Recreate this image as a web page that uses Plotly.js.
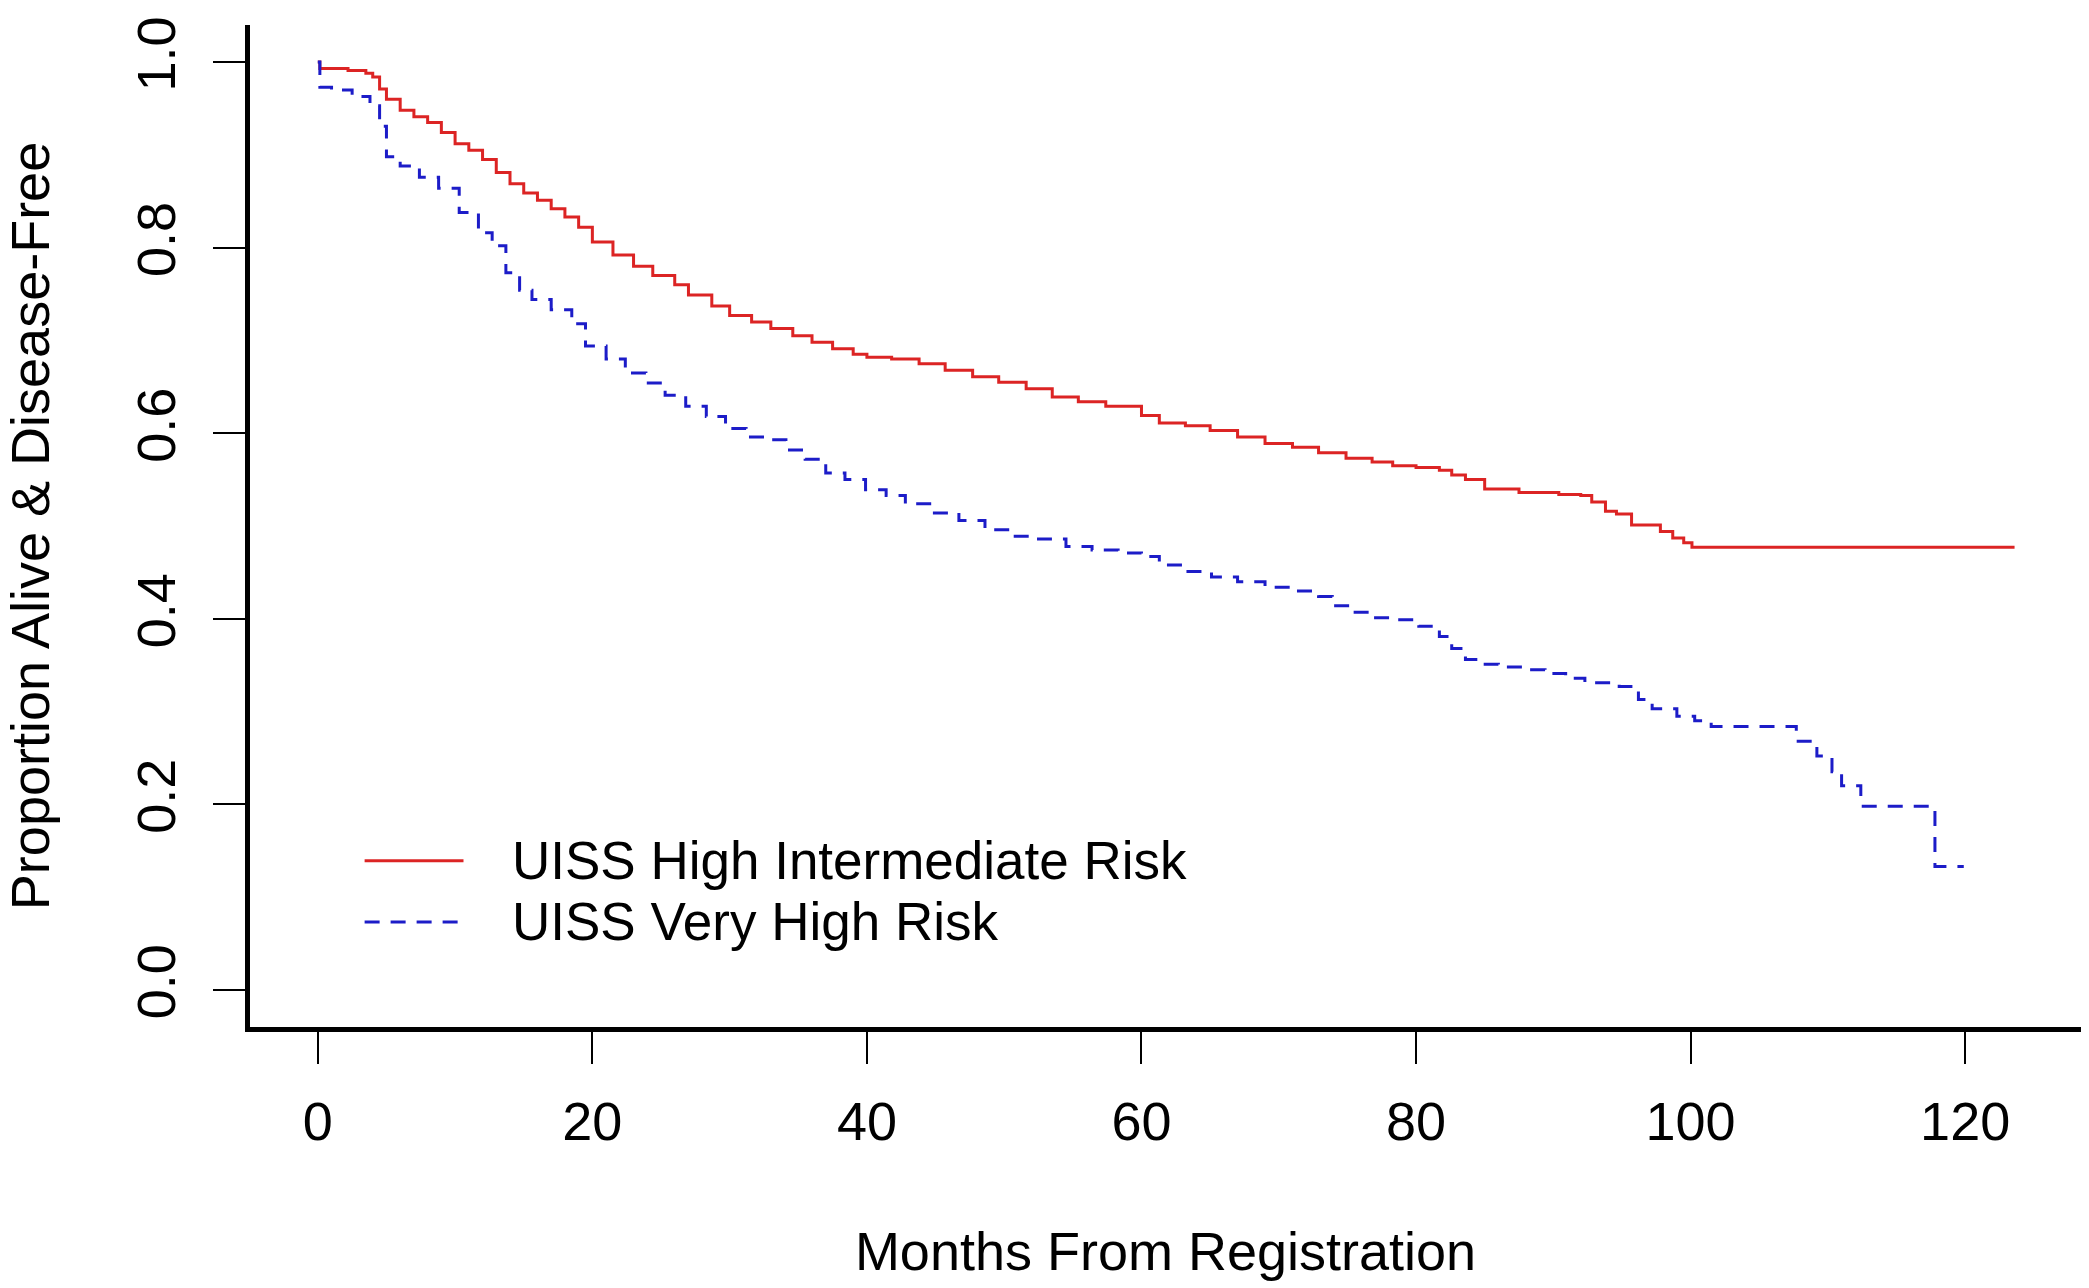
<!DOCTYPE html>
<html>
<head>
<meta charset="utf-8">
<script src="https://cdn.plot.ly/plotly-3.0.1.min.js"></script>
<style>
  html, body { margin: 0; padding: 0; background: #ffffff; }
  #chart { width: 2089px; height: 1288px; }
</style>
</head>
<body>
<div id="chart"></div>
<script>
// ---- Data ----
const seriesNames = ["UISS High Intermediate Risk", "UISS Very High Risk"];

// Kaplan-Meier step points: month of change, proportion after change
const highIntMonths = [0, 0.15, 2.2, 3.5, 4.0, 4.5, 5, 6, 7, 8, 9, 10, 11, 12, 13, 14, 15, 16, 17, 18, 19, 20,
  21.5, 23, 24.4, 26, 27, 28.7, 30, 31.6, 33, 34.6, 36, 37.5, 39, 40, 41.8, 43.8, 45.7, 47.7, 49.6,
  51.6, 53.5, 55.4, 57.4, 60, 61.3, 63.2, 65, 67, 69, 71, 72.9, 74.9, 76.8, 78.3, 80, 81.7, 82.6,
  83.6, 85, 87.5, 90.4, 92, 92.8, 93.8, 94.6, 95.7, 97.8, 98.7, 99.5, 100.1, 123.6];
const highIntSurv = [1.0, 0.993, 0.991, 0.988, 0.984, 0.971, 0.960, 0.948, 0.941, 0.935, 0.924, 0.912, 0.905,
  0.895, 0.881, 0.869, 0.859, 0.851, 0.842, 0.833, 0.822, 0.806, 0.792, 0.780, 0.770, 0.760, 0.749,
  0.737, 0.727, 0.720, 0.713, 0.705, 0.698, 0.691, 0.685, 0.682, 0.680, 0.675, 0.668, 0.661, 0.655,
  0.648, 0.639, 0.634, 0.629, 0.619, 0.611, 0.608, 0.603, 0.596, 0.589, 0.585, 0.579, 0.573, 0.569,
  0.565, 0.563, 0.560, 0.555, 0.550, 0.540, 0.536, 0.534, 0.533, 0.526, 0.516, 0.513, 0.501, 0.494,
  0.487, 0.482, 0.477, 0.477];

const veryHighMonths = [0, 0.15, 1, 2.5, 3.8, 4.5, 5, 6, 7.4, 8.8, 10.3, 11.7, 12.7, 13.7, 14.7, 15.6, 17,
  18.5, 19.5, 21, 22.4, 23.9, 25.3, 26.8, 28.3, 29.7, 31.2, 32.6, 34.1, 35.5, 37, 38.4, 39.9, 41.4,
  42.8, 44.8, 46.7, 48.6, 50.6, 52.5, 54.5, 56.4, 58.3, 60, 61.3, 63.2, 65.1, 67, 69, 71, 72.9, 73.9,
  75.3, 76.8, 78.7, 80.2, 81.7, 82.6, 83.6, 84.6, 86, 88, 89.4, 90.9, 92.3, 94.8, 96.2, 97.2, 99.0,
  100.3, 101.5, 107.7, 109.2, 110.3, 111.0, 112.4, 117.8, 119.9];
const veryHighSurv = [1.0, 0.973, 0.970, 0.963, 0.953, 0.931, 0.898, 0.888, 0.876, 0.864, 0.838, 0.816,
  0.802, 0.773, 0.754, 0.744, 0.733, 0.718, 0.694, 0.680, 0.665, 0.654, 0.641, 0.629, 0.618, 0.605,
  0.596, 0.593, 0.582, 0.572, 0.557, 0.550, 0.539, 0.533, 0.524, 0.514, 0.506, 0.496, 0.489, 0.486,
  0.478, 0.474, 0.471, 0.467, 0.458, 0.451, 0.445, 0.440, 0.434, 0.430, 0.424, 0.414, 0.407, 0.401,
  0.399, 0.392, 0.381, 0.368, 0.356, 0.351, 0.348, 0.345, 0.341, 0.336, 0.331, 0.327, 0.313, 0.303,
  0.295, 0.290, 0.284, 0.268, 0.252, 0.235, 0.220, 0.198, 0.133, 0.133];

const xTickVals = [0, 20, 40, 60, 80, 100, 120];
const yTickVals = [0.0, 0.2, 0.4, 0.6, 0.8, 1.0];
const yTickText = ["0.0", "0.2", "0.4", "0.6", "0.8", "1.0"];

const xTitle = "Months From Registration";
const yTitle = "Proportion Alive &amp; Disease-Free";

// ---- Styling ----
const FONT = "Liberation Sans, Arial, Helvetica, sans-serif";
const FS = 54;
const RED = "#dc2424";
const BLUE = "#1c1cc8";
const DASH = "15px,11px";

const traces = [
  {
    x: highIntMonths, y: highIntSurv, type: "scatter", mode: "lines",
    name: seriesNames[0], line: { shape: "hv", color: RED, width: 3 }, showlegend: false
  },
  {
    x: veryHighMonths, y: veryHighSurv, type: "scatter", mode: "lines",
    name: seriesNames[1], line: { shape: "hv", color: BLUE, width: 3, dash: DASH }, showlegend: false
  }
];

// Custom legend (R style): long line samples plus labels, in paper coordinates
const legendRows = [0.166, 0.1048];
const legendShapes = [
  { type: "line", xref: "paper", yref: "paper", x0: 0.0626, x1: 0.1166, y0: legendRows[0], y1: legendRows[0],
    line: { color: RED, width: 3 } },
  { type: "line", xref: "paper", yref: "paper", x0: 0.0626, x1: 0.1166, y0: legendRows[1], y1: legendRows[1],
    line: { color: BLUE, width: 3, dash: DASH } }
];
const legendAnnotations = seriesNames.map((nm, i) => ({
  xref: "paper", yref: "paper", x: 0.1418, y: legendRows[i], xanchor: "left", yanchor: "middle",
  text: nm, showarrow: false, font: { family: FONT, size: 53, color: "#000000" }
}));

const layout = {
  width: 2089, height: 1288,
  paper_bgcolor: "#ffffff", plot_bgcolor: "#ffffff",
  margin: { l: 250, r: 8, t: 25, b: 261, pad: 0 },
  font: { family: FONT, size: FS, color: "#000000" },
  xaxis: {
    range: [-4.94, 128.44], tickmode: "array", tickvals: xTickVals,
    ticks: "outside", ticklen: 32, tickwidth: 2, tickcolor: "#000",
    showline: true, linewidth: 5, linecolor: "#000", mirror: false,
    showgrid: false, zeroline: false, ticklabelstandoff: 11,
    tickfont: { family: FONT, size: FS, color: "#000" },
    title: { text: xTitle, font: { family: FONT, size: FS, color: "#000" }, standoff: 84 },
    automargin: false
  },
  yaxis: {
    range: [-0.04, 1.04], tickmode: "array", tickvals: yTickVals, ticktext: yTickText,
    ticks: "outside", ticklen: 32, tickwidth: 2, tickcolor: "#000",
    showline: true, linewidth: 5, linecolor: "#000", mirror: false,
    showgrid: false, zeroline: false, tickangle: -90, ticklabelstandoff: 16,
    tickfont: { family: FONT, size: FS, color: "#000" },
    title: { text: yTitle, font: { family: FONT, size: FS, color: "#000" }, standoff: 74 },
    automargin: false
  },
  shapes: legendShapes,
  annotations: legendAnnotations,
  showlegend: false
};

Plotly.newPlot("chart", traces, layout, { staticPlot: true, displayModeBar: false });
</script>
</body>
</html>
